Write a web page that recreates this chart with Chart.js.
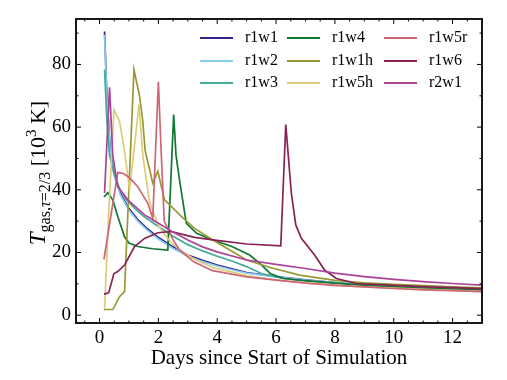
<!DOCTYPE html>
<html>
<head>
<meta charset="utf-8">
<script src="https://cdn.jsdelivr.net/npm/chart.js@4.4.0/dist/chart.umd.min.js"></script>
<style>
body{margin:0;background:#fff;}
#wrap{width:507px;height:380px;position:relative;}
</style>
</head>
<body>
<div id="wrap"><canvas id="myChart"></canvas></div>
<script>
// run names and colours
const seriesNames = ['r1w1', 'r1w2', 'r1w3', 'r1w4', 'r1w1h', 'r1w5h', 'r1w5r', 'r1w6', 'r2w1'];
const seriesColors = ['#332288', '#88CCEE', '#44AA99', '#117733', '#999933', '#DDCC77', '#CC6677', '#882255', '#AA4499'];

// days since start / gas temperature at tau=2/3 (10^3 K)
const r1w1_days = [0.17, 0.25, 0.37, 0.5, 0.7, 1.0, 1.3, 1.6, 2.0, 2.5, 3.0, 3.5, 4.0, 4.5, 5.0, 6.0, 7.0, 8.0, 9.0, 10.0, 11.0, 12.0, 13.0];
const r1w1_temp = [90.5, 70, 52, 45, 39, 34, 30.5, 27.8, 24.8, 21.8, 19.2, 17.5, 16.0, 14.8, 13.6, 12.3, 11.3, 10.4, 9.7, 9.1, 8.6, 8.2, 7.9];

const r1w2_days = [0.17, 0.25, 0.37, 0.5, 0.7, 1.0, 1.3, 1.6, 2.0, 2.5, 3.0, 3.5, 4.0, 4.5, 5.0, 6.0, 7.0, 8.0, 9.0, 10.0, 11.0, 12.0, 13.0];
const r1w2_temp = [89.5, 69, 51, 44.5, 38.5, 33.5, 30, 27.3, 24.3, 21.3, 18.8, 17.1, 15.7, 14.5, 13.4, 12.2, 11.2, 10.4, 9.7, 9.1, 8.6, 8.2, 7.9];

const r1w3_days = [0.17, 0.25, 0.34, 0.5, 0.7, 0.9, 1.2, 1.5, 2.0, 2.5, 3.0, 3.5, 4.0, 4.5, 5.0, 5.5, 6.2, 7.0, 8.0, 9.0, 10.0, 11.0, 12.0, 13.0];
const r1w3_temp = [78.4, 62, 51, 45, 40, 37, 34, 31.5, 28.3, 25.2, 22.5, 20.5, 18.8, 17.3, 15.5, 13.3, 11.8, 10.9, 10.2, 9.6, 9.1, 8.7, 8.4, 8.1];

const r1w4_days = [0.15, 0.28, 0.45, 0.62, 0.85, 1.0, 1.3, 1.8, 2.32, 2.52, 2.6, 2.72, 2.95, 3.3, 3.85, 4.5, 5.1, 5.45, 5.8, 6.25, 6.8, 8.0, 9.0, 10.0, 11.0, 12.0, 13.0];
const r1w4_temp = [37.7, 39.1, 36.8, 31.5, 25, 23, 21.9, 21.2, 20.8, 64, 51, 43, 29.3, 26.1, 24, 21.9, 19.2, 16.5, 13.3, 11.7, 11.2, 10.2, 9.5, 9.0, 8.6, 8.3, 8.0];

const r1w1h_days = [0.15, 0.45, 0.68, 0.85, 1.17, 1.36, 1.47, 1.55, 1.81, 1.98, 2.21, 2.78, 3.23, 3.85, 5.0, 5.8, 6.8, 8.0, 9.0, 10.0, 11.0, 12.0, 13.0];
const r1w1h_temp = [1.8, 1.8, 5.9, 7.5, 78.4, 69.9, 61.9, 52.5, 42.1, 45.9, 36.8, 31.5, 27.7, 24, 17.6, 15.2, 12.8, 11.1, 10.3, 9.8, 9.4, 9.0, 8.7];

const r1w5h_days = [0.17, 0.3, 0.49, 0.68, 0.85, 1.02, 1.2, 1.34, 1.47, 1.7, 2.0, 2.4, 2.72, 3.2, 3.85, 5.0, 6.0, 7.0, 8.0, 9.0, 10.0, 11.0, 12.0, 13.0];
const r1w5h_temp = [2, 30, 65.6, 61.9, 52.3, 40, 55, 67.2, 51, 36, 28.5, 23.5, 20.8, 18, 15.2, 12.6, 11.2, 10.3, 9.6, 9.0, 8.6, 8.2, 7.9, 7.6];

const r1w5r_days = [0.15, 0.62, 0.79, 1.0, 1.3, 1.64, 1.81, 2.0, 2.1, 2.2, 2.5, 2.72, 3.2, 3.84, 5.0, 6.1, 7.0, 8.0, 9.0, 10.0, 11.0, 12.0, 13.0];
const r1w5r_temp = [17.8, 45.5, 45.3, 44, 41, 35.7, 30.9, 74.5, 51, 30, 24, 20.8, 17, 14.2, 12.2, 11.1, 10.2, 9.5, 9.0, 8.5, 8.1, 7.8, 7.5];

const r1w6_days = [0.15, 0.31, 0.49, 0.62, 0.85, 1.19, 1.53, 1.98, 2.44, 2.89, 3.23, 3.85, 5.0, 6.16, 6.33, 6.52, 6.67, 6.86, 7.31, 7.65, 8.05, 8.73, 9.86, 11.0, 12.0, 13.0];
const r1w6_temp = [6.7, 7.1, 13.3, 13.9, 16, 21.9, 24.5, 26.3, 26.7, 25.6, 24.8, 24, 22.7, 22.1, 60.8, 38.9, 28.8, 24.5, 19.2, 14.4, 11.7, 10.1, 9.6, 9.1, 8.8, 8.5];

const r2w1_days = [0.17, 0.34, 0.45, 0.62, 0.96, 1.53, 2.1, 2.5, 3.0, 3.5, 4.0, 5.0, 6.0, 7.0, 8.0, 9.0, 10.0, 11.0, 12.0, 13.0];
const r2w1_temp = [39, 72.7, 51, 41, 36.8, 32, 28.8, 26.5, 24, 21.8, 20.2, 17.6, 16.2, 14.9, 13.4, 12.3, 11.4, 10.7, 10.1, 9.6];

const xTicks = [0, 2, 4, 6, 8, 10, 12];
const yTicks = [0, 20, 40, 60, 80];

const allDays = [r1w1_days, r1w2_days, r1w3_days, r1w4_days, r1w1h_days, r1w5h_days, r1w5r_days, r1w6_days, r2w1_days];
const allTemps = [r1w1_temp, r1w2_temp, r1w3_temp, r1w4_temp, r1w1h_temp, r1w5h_temp, r1w5r_temp, r1w6_temp, r2w1_temp];

const serif = "'Liberation Serif', 'DejaVu Serif', serif";

// axes box, inward ticks, axis titles and a 3x3 legend
const framePlugin = {
    id: 'frame',
    afterDatasetsDraw(chart){
        const ctx = chart.ctx;
        const a = chart.chartArea;
        const xs = chart.scales.x, ys = chart.scales.y;
        ctx.save();
        ctx.strokeStyle = '#000';
        ctx.lineWidth = 1;
        ctx.beginPath();
        for(let v = -0.5; v <= 13; v += 0.5){
            let px = xs.getPixelForValue(v);
            let len = xTicks.includes(v) ? 5 : 2.5;
            ctx.moveTo(px, a.bottom); ctx.lineTo(px, a.bottom - len);
            ctx.moveTo(px, a.top); ctx.lineTo(px, a.top + len);
        }
        for(let v = 0; v <= 90; v += 10){
            let py = ys.getPixelForValue(v);
            let len = yTicks.includes(v) ? 5 : 2.5;
            ctx.moveTo(a.left, py); ctx.lineTo(a.left + len, py);
            ctx.moveTo(a.right, py); ctx.lineTo(a.right - len, py);
        }
        ctx.stroke();
        ctx.lineWidth = 1.8;
        ctx.strokeRect(a.left, a.top, a.right - a.left, a.bottom - a.top);

        // x title
        ctx.fillStyle = '#000';
        ctx.font = '21px ' + serif;
        ctx.textAlign = 'center';
        ctx.textBaseline = 'middle';
        ctx.fillText('Days since Start of Simulation', (a.left + a.right) / 2, 358);

        // y title with sub/superscripts
        const parts = [
            {t: 'T', f: 'italic 23px ', dy: 0},
            {t: 'gas,', f: '16px ', dy: 5},
            {t: 'τ', f: 'italic 16px ', dy: 5},
            {t: '=2/3', f: '16px ', dy: 5},
            {t: ' [10', f: '22px ', dy: 0},
            {t: '3', f: '15px ', dy: -9},
            {t: ' K]', f: '22px ', dy: 0},
        ];
        let total = 0;
        parts.forEach(p => { ctx.font = p.f + serif; p.w = ctx.measureText(p.t).width; total += p.w; });
        ctx.save();
        ctx.translate(37, 173);
        ctx.rotate(-Math.PI / 2);
        ctx.textAlign = 'left';
        ctx.textBaseline = 'alphabetic';
        let cx = -total / 2;
        parts.forEach(p => { ctx.font = p.f + serif; ctx.fillText(p.t, cx, 8 + p.dy); cx += p.w; });
        ctx.restore();

        // legend, filled column by column
        const colX = [200, 287, 384];
        const rowY = [38, 61, 83];
        ctx.font = '16px ' + serif;
        ctx.textAlign = 'left';
        ctx.textBaseline = 'middle';
        chart.data.datasets.forEach((ds, i) => {
            let col = Math.floor(i / 3), row = i % 3;
            let lx = colX[col], ly = rowY[row];
            ctx.strokeStyle = ds.borderColor;
            ctx.lineWidth = 2;
            ctx.beginPath(); ctx.moveTo(lx, ly); ctx.lineTo(lx + 33, ly); ctx.stroke();
            ctx.fillStyle = '#000';
            ctx.fillText(ds.label, lx + 45, ly);
        });
        ctx.restore();
    }
};

const datasets = seriesNames.map((name, i) => ({
    label: name,
    data: allDays[i].map((d, j) => ({x: d, y: allTemps[i][j]})),
    borderColor: seriesColors[i],
    backgroundColor: seriesColors[i],
    borderWidth: 1.7,
    pointRadius: 0,
    tension: 0,
    fill: false,
    order: seriesNames.length - i,
}));

const ctx = document.getElementById('myChart').getContext('2d');
const myChart = new Chart(ctx, {
    type: 'line',
    data: {datasets: datasets},
    options: {
        responsive: true,
        maintainAspectRatio: false,
        animation: false,
        devicePixelRatio: 1,
        layout: {padding: {left: 0, top: 19, right: 25, bottom: 0}},
        plugins: {legend: {display: false}, tooltip: {enabled: false}},
        scales: {
            x: {
                type: 'linear',
                min: -0.8,
                max: 13,
                grid: {display: false, drawTicks: false},
                border: {display: false},
                ticks: {color: '#000', font: {family: serif, size: 19}, padding: 4},
                afterBuildTicks: s => { s.ticks = xTicks.map(v => ({value: v})); },
                afterFit: s => { s.height = 57; },
            },
            y: {
                type: 'linear',
                min: -2.5,
                max: 94.5,
                grid: {display: false, drawTicks: false},
                border: {display: false},
                ticks: {color: '#000', font: {family: serif, size: 19}, padding: 5},
                afterBuildTicks: s => { s.ticks = yTicks.map(v => ({value: v})); },
                afterFit: s => { s.width = 76; },
            },
        },
    },
    plugins: [framePlugin],
});
</script>
</body>
</html>
